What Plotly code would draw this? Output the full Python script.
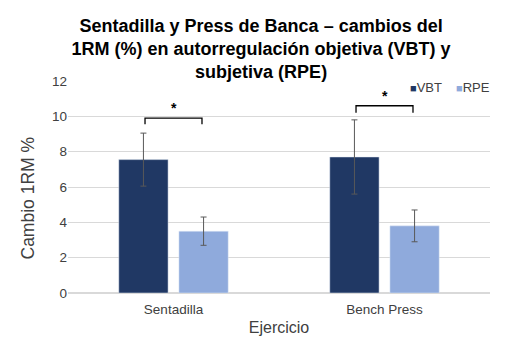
import plotly.graph_objects as go

categories = ["Sentadilla", "Bench Press"]
vbt_values = [7.55, 7.7]
vbt_err = [1.5, 2.1]
rpe_values = [3.5, 3.8]
rpe_err = [0.8, 0.9]
y_ticks = [0, 2, 4, 6, 8, 10, 12]
series_names = ["VBT", "RPE"]
series_colors = ["#203864", "#8faadc"]

# significance brackets: (category index, top y, bottom y)
sig_brackets = [(0, 9.9, 9.55), (1, 10.6, 10.2)]

font_family = "Liberation Sans, Arial, sans-serif"

fig = go.Figure()
for name, vals, errs, col in zip(series_names, [vbt_values, rpe_values],
                                 [vbt_err, rpe_err], series_colors):
    fig.add_trace(go.Bar(
        name=name, x=categories, y=vals,
        marker_color=col, showlegend=False,
        error_y=dict(type="data", array=errs, color="#595959", thickness=1, width=3),
    ))

for i, top, bot in sig_brackets:
    x0, x1 = i - 0.135, i + 0.135
    fig.add_shape(type="path",
                  path=f"M {x0} {bot} L {x0} {top} L {x1} {top} L {x1} {bot}",
                  xref="x", yref="y", line=dict(color="black", width=1.3))
    fig.add_annotation(x=i, y=top, text="<b>*</b>", showarrow=False,
                       yanchor="bottom", yshift=0,
                       font=dict(size=14, color="black", family=font_family))

# legend drawn as text items at the top right
legend_x = [0.805, 0.915]
for name, col, lx in zip(series_names, series_colors, legend_x):
    fig.add_annotation(
        xref="paper", yref="paper", x=lx, y=0.967, xanchor="left", yanchor="middle",
        text=f"<span style='color:{col};font-size:11px'>■</span>{name}",
        showarrow=False, font=dict(size=13, color="#404040", family=font_family),
    )

# y axis title
fig.add_annotation(
    xref="paper", yref="paper", x=-0.095, y=0.45, xanchor="center", yanchor="middle",
    text="Cambio 1RM %", textangle=-90, showarrow=False,
    font=dict(size=17.5, color="#404040", family=font_family),
)

fig.update_layout(
    width=514, height=358,
    margin=dict(l=68, r=24, t=81, b=65),
    paper_bgcolor="white", plot_bgcolor="white",
    barmode="group", bargap=0.43, bargroupgap=0.18,
    font=dict(family=font_family, color="#404040"),
    title=dict(
        text="<b>Sentadilla y Press de Banca – cambios del<br>1RM (%) en autorregulación objetiva (VBT) y<br>subjetiva (RPE)</b>",
        x=0.508, xanchor="center", y=0.912, yanchor="top",
        font=dict(size=18, color="black", family=font_family),
    ),
    xaxis=dict(
        title=dict(text="Ejercicio", font=dict(size=16, color="#404040"), standoff=5),
        tickfont=dict(size=13.5, color="#404040"),
        showline=True, linecolor="#d9d9d9", linewidth=1,
        ticks="", ticklabelstandoff=4,
    ),
    yaxis=dict(
        range=[0, 12], tickvals=y_ticks,
        tickfont=dict(size=13.5, color="#404040"),
        showgrid=True, gridcolor="#d9d9d9", gridwidth=1,
        zeroline=True, zerolinecolor="#d9d9d9",
        ticks="",
    ),
    showlegend=False,
)

fig.write_html("out.html", config={"displayModeBar": False},
               post_script="document.body.style.margin='0';")
